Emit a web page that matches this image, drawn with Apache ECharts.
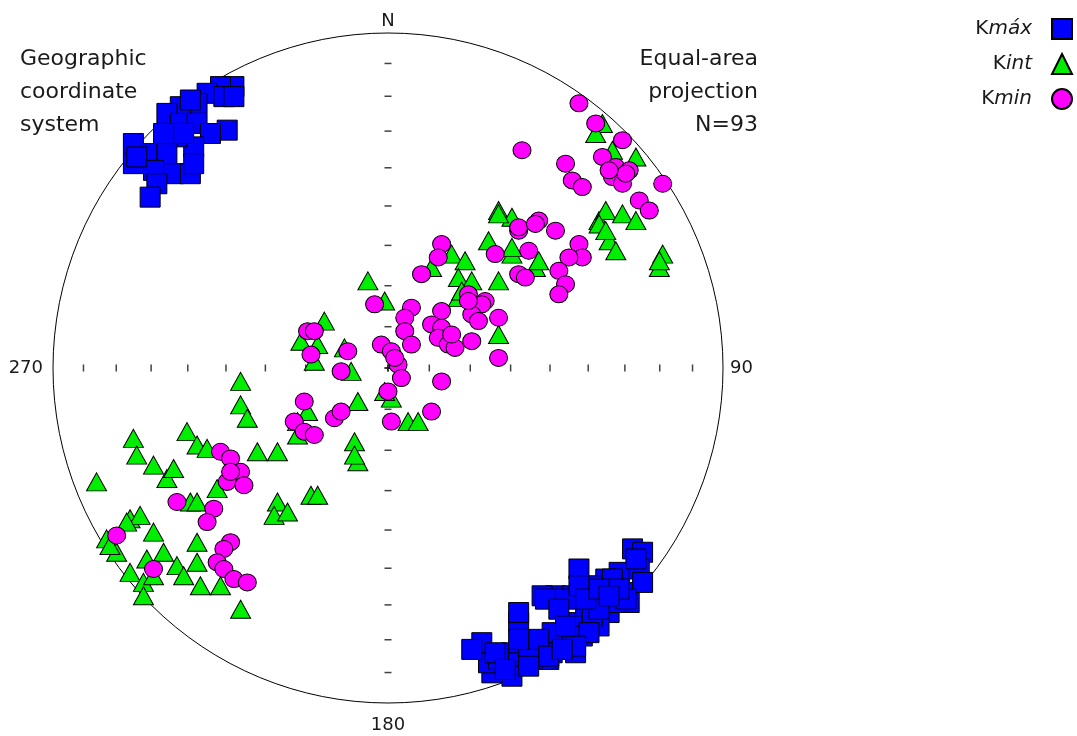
<!DOCTYPE html>
<html><head><meta charset="utf-8">
<script src="https://cdn.jsdelivr.net/npm/echarts@6/dist/echarts.min.js"></script>
<style>html,body{margin:0;padding:0;background:#fff}#c{width:1077px;height:736px}</style>
</head><body><div id="c"></div>
<script>
// Equal-area projection coordinates [east, north], in % of the primitive circle radius
const kmax = [
[-46,84],[-50,84],[-54,82],[-57,79],[-62,78],[-66,76],[-62,73],[-57,73],[-48,71],[-53,70],[-58,66],[-63,69],[-66,64],[-72,64],[-76,67],[-76,61],[-70,59],[-64,58],[-59,58],[-69,55],[-71,51],[-75,63],[-59,80],[-49,81],[-46,81],[-67,70],[-58,61],[-61,70],
[73,-54],[76,-55],[75,-60],[76,-64],[72,-70],[69,-61],[65,-63],[57,-60],[61,-65],[64,-69],[66,-73],[60,-75],[55,-76],[50,-68],[46,-68],[55,-68],[59,-71],[54,-81],[50,-80],[48,-87],[49,-85],[44,-84],[41,-84],[39,-76],[39,-73],[37,-85],[36,-88],[37,-92],[31,-91],[30,-88],[28,-82],[25,-84],[33,-87],[56,-85],[58,-80],[63,-77],[68,-70],[70,-67],[47,-87],[43,-87],[67,-63],[71,-69],[61,-74],[53,-69],[60,-79],[56,-83],[49,-79],[42,-84],[32,-85],[47,-69],[51,-72],[57,-65],[63,-72],[69,-66],[53,-77],[45,-81],[39,-81],[74,-57],[48,-86],[59,-69],[63,-66],[66,-68],[52,-84],[42,-89],[35,-90]
];
const kint = [
[64,73],[62,70],[67,65],[74,63],[33,47],[37,45],[30,38],[37,34],[44,30],[33,26],[63,44],[65,47],[70,46],[74,44],[66,38],[68,35],[82,34],[81,30],[37,36],[63,43],
[19,34],[23,32],[13,30],[21,27],[25,26],[21,21],[-6,26],[-1,20],[-19,14],[-26,8],[-21,7],[-22,2],[-13,6],[-11,-1],[33,10],[-9,-10],[1,-9],[6,-16],[9,-16],[22,23],[-44,-4],[-44,-11],[-42,-15],[-10,-22],[-9,-28],[-24,-13],[-27,-16],
[-76,-21],[-75,-26],[-70,-29],[-66,-33],[-87,-34],[-60,-19],[-57,-23],[-54,-24],[-39,-25],[-33,-25],[-27,-20],[-51,-36],[-59,-40],[-57,-40],[-33,-40],[-34,-44],[-30,-43],[-23,-38],[-21,-38],[-77,-45],[-74,-44],[-84,-51],[-70,-49],[-81,-55],[-72,-57],[-67,-55],[-63,-59],[-77,-61],[-73,-64],[-73,-68],[-70,-62],[-61,-62],[-57,-52],[-57,-58],[-56,-65],[-50,-65],[-44,-72],[-64,-30],[-78,-46],[-83,-53],
[65,41],[81,32],[33,46],[-10,-26],[-1,-7],[45,32]
];
const kmin = [
[57,79],[62,73],[70,68],[64,63],[68,60],[72,59],[67,57],[70,55],[82,55],[40,65],[53,61],[55,56],[58,54],[75,50],[78,47],[45,44],[50,41],[39,41],[32,34],[42,35],[39,28],[57,37],[58,33],[54,33],[51,29],[53,25],[51,22],[29,20],[71,58],
[16,37],[15,33],[10,28],[-4,19],[7,18],[5,15],[16,17],[5,11],[13,13],[16,12],[15,9],[18,7],[20,6],[25,8],[24,22],[28,19],[25,16],[33,15],[41,27],[39,42],[44,43],[33,3],[7,7],[-2,7],[1,5],[3,1],[4,-3],[0,-7],[16,-4],[13,-13],[1,-16],[-24,11],[-22,11],[-23,4],[-12,5],[-14,-1],[-25,-10],[-28,-16],[-16,-15],[-14,-13],[-25,-19],[-22,-20],
[-50,-25],[-47,-27],[-44,-31],[-48,-34],[-43,-35],[-63,-40],[-52,-42],[-54,-46],[-47,-52],[-49,-54],[-51,-58],[-49,-60],[-46,-63],[-42,-64],[-81,-50],[-70,-60],[-47,-31],[2,3],[24,20],[27,14],[19,10],[66,59]
];
const seriesNames = ['Kmáx', 'Kint', 'Kmin'];
const leftNote = ['Geographic', 'coordinate', 'system'];
const rightNote = ['Equal-area', 'projection', 'N=93'];
const tickDips = [10, 20, 30, 40, 50, 60, 70, 80, 90];
const dirLabels = {0: 'N', 90: '90', 180: '180', 270: '270'};

function eqArea(dip) { return 100 * Math.SQRT2 * Math.sin((90 - dip) / 2 * Math.PI / 180); }
const ewTicks = [], nsTicks = [];
tickDips.forEach(d => { const r = eqArea(d); ewTicks.push([r, 0], [-r, 0]); nsTicks.push([0, r], [0, -r]); });

const FONT = 'DejaVu Sans';
const TXT = '#1a1a1a';
const noteStyle = {fontFamily: FONT, fontSize: 22, lineHeight: 33, fontWeight: 'normal', color: TXT};
const titles = [
  {text: leftNote.join('\n'), left: 20, top: 43, padding: 0, textStyle: noteStyle}
];
rightNote.forEach((t, i) => titles.push({text: t, right: 319, top: 43 + i * 33, padding: 0, textStyle: noteStyle}));

const chart = echarts.init(document.getElementById('c'), null, {renderer: 'canvas'});
const pointSeries = (name, data, symbol, size, color, z) => ({
  name, type: 'scatter', data, symbol, symbolSize: size, z,
  itemStyle: {color, borderColor: '#000', borderWidth: 1, opacity: 1},
  emphasis: {disabled: true}, silent: true
});
chart.setOption({
  animation: false,
  backgroundColor: '#fff',
  title: titles,
  legend: {
    data: seriesNames, orient: 'vertical', right: 4, top: 18, align: 'right',
    itemWidth: 20, itemHeight: 20, itemGap: 13, padding: 0, selectedMode: false,
    formatter: n => '{k|' + n.charAt(0) + '}{s|' + n.slice(1) + '}',
    textStyle: {fontFamily: FONT, fontSize: 20, color: TXT, padding: [0, 15, 0, 0],
      rich: {k: {fontFamily: FONT, fontSize: 20, color: TXT},
             s: {fontFamily: FONT, fontSize: 20, fontStyle: 'italic', color: TXT}}}
  },
  grid: {left: 53, top: 33, width: 670, height: 670},
  xAxis: {type: 'value', min: -100, max: 100, show: false},
  yAxis: {type: 'value', min: -100, max: 100, show: false},
  polar: {center: [388, 368], radius: 335},
  angleAxis: {
    type: 'value', min: 0, max: 360, interval: 90, startAngle: 90, clockwise: true,
    axisLine: {show: true, lineStyle: {color: '#000', width: 1}},
    axisTick: {show: false}, splitLine: {show: false},
    axisLabel: {
      margin: 3, color: TXT, fontFamily: FONT, fontSize: 18,
      formatter: v => { const t = dirLabels[v]; if (t === undefined || v === 360) return '';
        const key = v === 0 ? 'n' : v === 90 ? 'e' : v === 180 ? 's' : 'w'; return '{' + key + '|' + t + '}'; },
      rich: {
        n: {fontFamily: FONT, fontSize: 18, color: TXT},
        e: {fontFamily: FONT, fontSize: 18, color: TXT, padding: [0, 0, 0, 4]},
        s: {fontFamily: FONT, fontSize: 18, color: TXT, padding: [10, 0, 0, 0]},
        w: {fontFamily: FONT, fontSize: 18, color: TXT, padding: [0, 7, 0, 0]}
      }
    }
  },
  radiusAxis: {type: 'value', min: 0, max: 100, show: false},
  series: [
    {type: 'scatter', name: 'ewTicks', data: ewTicks, symbol: 'rect', symbolSize: [1.5, 7], z: 1,
     itemStyle: {color: '#111'}, silent: true},
    {type: 'scatter', name: 'nsTicks', data: nsTicks, symbol: 'rect', symbolSize: [7, 1.5], z: 1,
     itemStyle: {color: '#111'}, silent: true},
    pointSeries(seriesNames[0], kmax, 'rect', 20, '#0000ff', 2),
    pointSeries(seriesNames[1], kint, 'triangle', [20, 18], '#00ee00', 3),
    pointSeries(seriesNames[2], kmin, 'circle', [18, 17], '#ff00ff', 4)
  ]
});
</script></body></html>
